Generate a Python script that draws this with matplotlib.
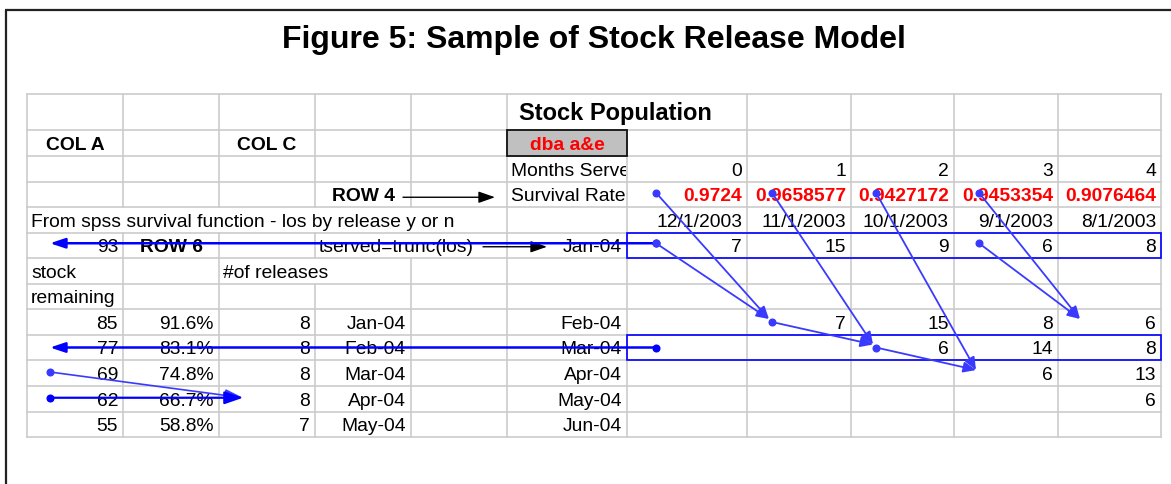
import matplotlib
matplotlib.use("Agg")
import matplotlib.pyplot as plt
from matplotlib.patches import Rectangle, FancyArrowPatch
from matplotlib.transforms import Bbox, TransformedBbox

# ---------------- data ----------------
title = "Figure 5: Sample of Stock Release Model"
months_served = [0, 1, 2, 3, 4]
survival_rate = [0.9724, 0.9658577, 0.9427172, 0.9453354, 0.9076464]
cohort_dates = ["12/1/2003", "11/1/2003", "10/1/2003", "9/1/2003", "8/1/2003"]
initial_releases = [7, 15, 9, 6, 8]
initial_stock = 93
stock_remaining = [85, 77, 69, 62, 55]
pct_remaining = [91.6, 83.1, 74.8, 66.7, 58.8]
num_releases = [8, 8, 8, 8, 7]
release_months = ["Jan-04", "Feb-04", "Mar-04", "Apr-04", "May-04"]
served_months = ["Feb-04", "Mar-04", "Apr-04", "May-04", "Jun-04"]
projected = [
    [None, 7, 15, 8, 6],
    [None, None, 6, 14, 8],
    [None, None, None, 6, 13],
    [None, None, None, None, 6],
    [None, None, None, None, None],
]

# ---------------- layout ----------------
W, H = 1171, 484
XE = [27, 123, 219, 315, 411, 507, 627, 747, 851, 954, 1058, 1161]
YE = [94, 130, 156, 181.5, 207, 232.5, 258, 284, 309, 335, 360, 386, 411.5, 437]
NC, NR = len(XE) - 1, len(YE) - 1
FS = 13.9
EMPX = FS * 100 / 72
FONT = "Liberation Sans"
GRID = "#cccccc"
BLUE = "#0000ff"
BLUE2 = "#3a3aff"

fig = plt.figure(figsize=(W / 100, H / 100), dpi=100)
ax = fig.add_axes([0, 0, 1, 1])
ax.set_xlim(0, W)
ax.set_ylim(H, 0)
ax.axis("off")


def rc(r):
    return (YE[r] + YE[r + 1]) / 2


def base(r):
    return rc(r) + 0.358 * EMPX


def put(r, c, s, align="right", bold=False, color="black", fs=FS, clip=False):
    if align == "right":
        x, ha = XE[c + 1] - 5, "right"
    elif align == "left":
        x, ha = XE[c] + 4, "left"
    else:
        x, ha = (XE[c] + XE[c + 1]) / 2, "center"
    t = ax.text(x, base(r), s, ha=ha, va="baseline", fontsize=fs, family=FONT,
                fontweight="bold" if bold else "normal", color=color, zorder=3,
                clip_on=clip)
    if clip:
        bb = Bbox.from_extents(XE[c], YE[r], XE[c + 1] - 1, YE[r + 1])
        t.set_clip_box(TransformedBbox(bb, ax.transData))
    return t


# outer frame
ax.plot([5, W], [9.5, 9.5], color="#222222", lw=1.6, solid_capstyle="butt", zorder=5)
ax.plot([6, 6], [9.5, H], color="#222222", lw=1.6, solid_capstyle="butt", zorder=5)

# title
ax.text(594, 40, title, ha="center", va="center", fontsize=23, family=FONT,
        fontweight="bold", color="black")

# gridlines
hidden = {(0, 6), (4, 1), (4, 2), (4, 3), (4, 4), (5, 4), (6, 3)}
for y in YE:
    ax.plot([XE[0], XE[-1]], [y, y], color=GRID, lw=1.2, zorder=1)
for r in range(NR):
    for i, x in enumerate(XE):
        if (r, i) in hidden:
            continue
        ax.plot([x, x], [YE[r], YE[r + 1]], color=GRID, lw=1.2, zorder=1)

# header cells
ax.text(XE[5] + 12, base(0) + 1, "Stock Population", ha="left", va="baseline",
        fontsize=17, family=FONT, fontweight="bold", zorder=3)
put(1, 0, "COL A", align="center", bold=True)
put(1, 2, "COL C", align="center", bold=True)
ax.add_patch(Rectangle((XE[5], YE[1]), XE[6] - XE[5], YE[2] - YE[1],
                       facecolor="#c0c0c0", edgecolor="#111111", lw=1.3, zorder=2))
put(1, 5, "dba a&e", align="center", bold=True, color="#ff0000")

put(2, 5, "Months Served", align="left", clip=True)
for k, m in enumerate(months_served):
    put(2, 6 + k, str(m))

put(3, 3, "ROW 4", align="center", bold=True)
put(3, 5, "Survival Rate", align="left")
for k, s in enumerate(survival_rate):
    put(3, 6 + k, f"{s:.7f}".rstrip("0"), bold=True, color="#ff0000")

ax.text(XE[0] + 4, base(4), "From spss survival function - los by release y or n",
        ha="left", va="baseline", fontsize=FS, family=FONT, zorder=3)
for k, d in enumerate(cohort_dates):
    put(4, 6 + k, d)

put(5, 0, str(initial_stock))
put(5, 1, "ROW 6", align="center", bold=True)
put(5, 3, "tserved=trunc(los)", align="left")
put(5, 5, release_months[0])
for k, v in enumerate(initial_releases):
    put(5, 6 + k, str(v))

put(6, 0, "stock", align="left")
put(6, 2, "#of releases", align="left")
put(7, 0, "remaining", align="left")

for i in range(len(stock_remaining)):
    r = 8 + i
    put(r, 0, str(stock_remaining[i]))
    put(r, 1, f"{pct_remaining[i]:.1f}%")
    put(r, 2, str(num_releases[i]))
    put(r, 3, release_months[i])
    put(r, 5, served_months[i])
    for k, v in enumerate(projected[i]):
        if v is not None:
            put(r, 6 + k, str(v))

# blue highlight rectangles
for r in (5, 9):
    ax.add_patch(Rectangle((XE[6], YE[r]), XE[-1] - XE[6], YE[r + 1] - YE[r],
                           fill=False, edgecolor=BLUE, lw=1.2, zorder=4))


def arrow(p0, p1, color, lw, ms=10, hl=0.75, hw=0.32, dot=True, z=6):
    a = FancyArrowPatch(p0, p1, arrowstyle=f"-|>,head_length={hl},head_width={hw}",
                        mutation_scale=ms, color=color, lw=lw, shrinkA=0, shrinkB=0,
                        zorder=z)
    ax.add_patch(a)
    if dot:
        ax.plot([p0[0]], [p0[1]], "o", color=color, ms=4.8, zorder=z)


# black pointer arrows
arrow((XE[4] - 8, rc(3) + 3), (XE[5] - 12, rc(3) + 3), "black", 1.0, ms=10,
      hl=1.0, hw=0.35, dot=False)
arrow((XE[4] + 72, rc(5) + 1.5), (XE[5] + 40, rc(5) + 1.5), "black", 1.0, ms=10,
      hl=1.0, hw=0.35, dot=False)

# long horizontal blue arrows
for r, dy in ((5, -2), (9, 0)):
    arrow((XE[6] + 29, rc(r) + dy), (XE[0] + 23, rc(r) + dy), BLUE, 1.8, ms=10,
          hl=0.9, hw=0.3)

# rows 11/12 arrows into #of releases
arrow((XE[0] + 23, rc(10) - 1), (XE[2] + 24, rc(11) - 1), BLUE2, 1.2, hl=1.1, hw=0.38)
arrow((XE[0] + 23, rc(11) - 1), (XE[2] + 24, rc(11) - 1), BLUE, 1.6, hl=1.1, hw=0.38)

# survival chain arrows
chain = [
    ((6, 3), (6, 5), (7, 8)),
    ((7, 3), (7, 8), (8, 9)),
    ((8, 3), (8, 9), (9, 10)),
    ((9, 3), (9, 5), (10, 8)),
]
for (c1, r1), (c2, r2), (ct, rt) in chain:
    tgt = (XE[ct] + 22, rc(rt) - 3)
    off1 = 29 if c1 == 6 else 25
    arrow((XE[c1] + off1, rc(r1) - 1.5), tgt, BLUE2, 1.3)
    arrow((XE[c2] + off1, rc(r2) - (2 if r2 == 5 else 0)), tgt, BLUE2, 1.3)

fig.savefig("out.png", dpi=100, facecolor="white")
